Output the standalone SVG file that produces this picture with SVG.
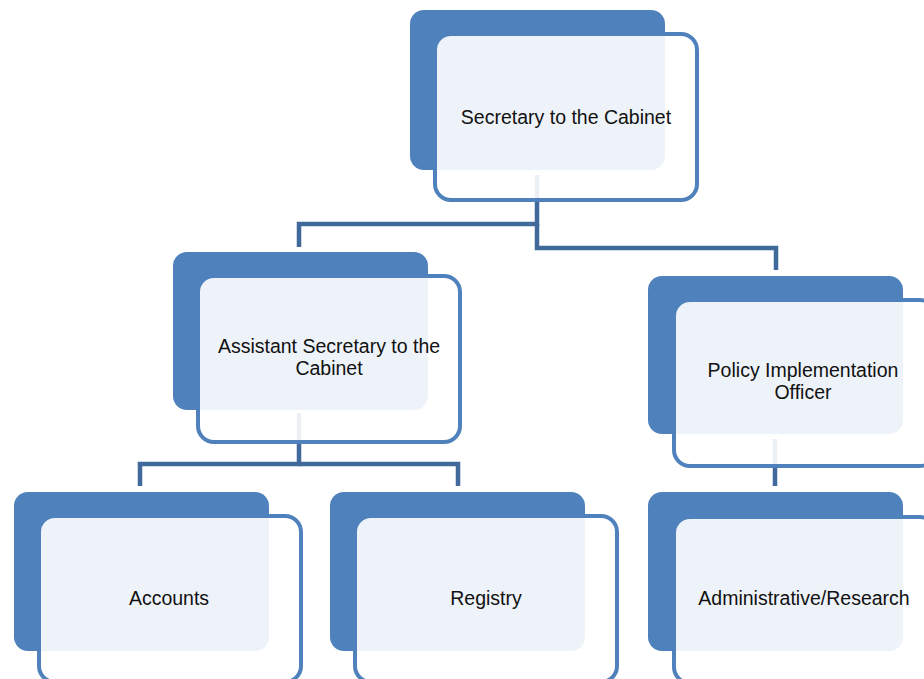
<svg xmlns="http://www.w3.org/2000/svg" width="924" height="679" viewBox="0 0 924 679">
  <style>
    .back { fill: #4f81bd; }
    .front { fill: #ffffff; fill-opacity: 0.9; stroke: #4f81bd; stroke-width: 4; }
    .label { font-family: "Liberation Sans", Arial, sans-serif; font-size: 19.5px; fill: #111111; text-anchor: middle; }
    .link { fill: none; stroke: #42699b; stroke-width: 4.5; stroke-linejoin: miter; stroke-linecap: butt; }
  </style>
  <rect width="924" height="679" fill="#ffffff"/>

  <!-- connectors sit beneath the boxes so the translucent front panels soften them -->
  <g id="connectors">
    <path class="link" d="M537,175 V224 H299 V247"/>
    <path class="link" d="M537,224 V248 H776 V270"/>
    <path class="link" d="M299,413 V464 H140 V486"/>
    <path class="link" d="M299,464 H458 V486"/>
    <path class="link" d="M775,439 V486"/>
  </g>

  <g id="secretary">
    <rect class="back" x="410" y="10" width="255" height="160" rx="14"/>
    <rect class="front" x="435" y="34" width="262" height="166" rx="16"/>
    <text class="label" x="566" y="124">Secretary to the Cabinet</text>
  </g>

  <g id="assistant-secretary">
    <rect class="back" x="173" y="252" width="255" height="158" rx="14"/>
    <rect class="front" x="198" y="276" width="262" height="166" rx="16"/>
    <text class="label" x="329" y="353">Assistant Secretary to the</text>
    <text class="label" x="329" y="375">Cabinet</text>
  </g>

  <g id="policy-officer">
    <rect class="back" x="648" y="276" width="255" height="158" rx="14"/>
    <rect class="front" x="674" y="300" width="262" height="166" rx="16"/>
    <text class="label" x="803" y="377">Policy Implementation</text>
    <text class="label" x="803" y="399">Officer</text>
  </g>

  <g id="accounts">
    <rect class="back" x="14" y="492" width="255" height="159" rx="14"/>
    <rect class="front" x="39" y="516" width="262" height="166" rx="16"/>
    <text class="label" x="169" y="605">Accounts</text>
  </g>

  <g id="registry">
    <rect class="back" x="330" y="492" width="255" height="159" rx="14"/>
    <rect class="front" x="355" y="516" width="262" height="166" rx="16"/>
    <text class="label" x="486" y="605">Registry</text>
  </g>

  <g id="administrative-research">
    <rect class="back" x="648" y="492" width="255" height="159" rx="14"/>
    <rect class="front" x="674" y="517" width="262" height="166" rx="16"/>
    <text class="label" x="804" y="605">Administrative/Research</text>
  </g>
</svg>
